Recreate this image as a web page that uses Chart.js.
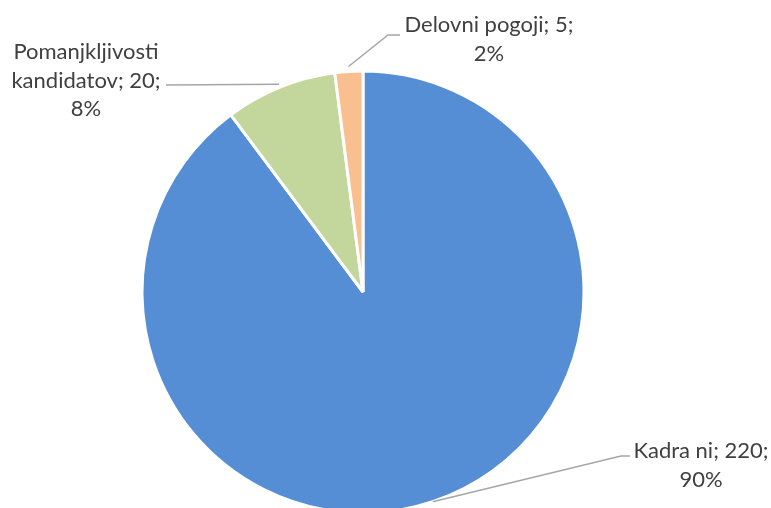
<!DOCTYPE html>
<html>
<head>
<meta charset="utf-8">
<script src="https://cdn.jsdelivr.net/npm/chart.js@4.4.1/dist/chart.umd.min.js"></script>
<style>
html,body{margin:0;padding:0;background:#fff;}
#wrap{width:771px;height:508px;position:relative;}
</style>
</head>
<body>
<div id="wrap"><canvas id="c" width="771" height="508"></canvas></div>
<script>
const categories = ["Kadra ni", "Pomanjkljivosti kandidatov", "Delovni pogoji"];
const values = [220, 20, 5];
const percents = ["90%", "8%", "2%"];
const labelLines = [
  ["Kadra ni; 220;", "90%"],
  ["Pomanjkljivosti", "kandidatov; 20;", "8%"],
  ["Delovni pogoji; 5;", "2%"]
];
const colors = ["#558ED5", "#C3D69B", "#F9BF8F"];

// layout of the data labels (text block centre x, first baseline y, elbow, line end)
const labelLayout = [
  {tx: 701, ty: 458, elbow: [621, 456], end: [630, 456], startOff: 0},
  {tx: 86, ty: 59, elbow: null, end: [166, 85], startOff: 3},
  {tx: 489, ty: 32, elbow: [388, 35], end: [400, 35], startOff: 5}
];

const labelPlugin = {
  id: 'pieLabels',
  afterDatasetsDraw(chart) {
    const ctx = chart.ctx;
    const meta = chart.getDatasetMeta(0);
    ctx.save();
    meta.data.forEach((arc, i) => {
      const p = arc.getProps(['x','y','startAngle','endAngle','outerRadius'], true);
      const mid = (p.startAngle + p.endAngle) / 2;
      const L = labelLayout[i];
      const r = p.outerRadius + L.startOff;
      const sx = p.x + Math.cos(mid) * r;
      const sy = p.y + Math.sin(mid) * r;
      ctx.strokeStyle = '#A6A6A6';
      ctx.lineWidth = 1.5;
      ctx.beginPath();
      ctx.moveTo(sx, sy);
      if (L.elbow) ctx.lineTo(L.elbow[0], L.elbow[1]);
      ctx.lineTo(L.end[0], L.end[1]);
      ctx.stroke();
      ctx.fillStyle = '#404040';
      ctx.font = '22px Lato';
      ctx.textAlign = 'center';
      ctx.textBaseline = 'alphabetic';
      labelLines[i].forEach((t, j) => {
        ctx.fillText(t, L.tx, L.ty + j * 28.5);
      });
    });
    ctx.restore();
  }
};

new Chart(document.getElementById('c'), {
  type: 'pie',
  data: {
    labels: categories,
    datasets: [{
      data: values,
      backgroundColor: colors,
      borderColor: '#FFFFFF',
      borderWidth: 3
    }]
  },
  options: {
    responsive: false,
    animation: false,
    radius: 221,
    layout: {padding: {left: 142, right: 187, top: 76, bottom: 0}},
    plugins: {legend: {display: false}, tooltip: {enabled: false}}
  },
  plugins: [labelPlugin]
});
</script>
</body>
</html>
